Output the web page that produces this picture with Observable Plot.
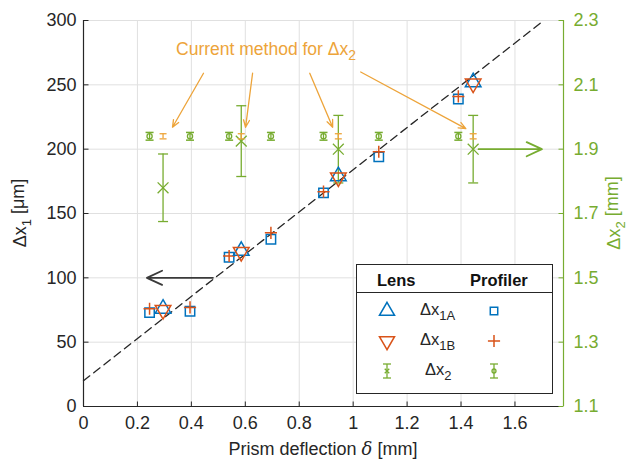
<!DOCTYPE html>
<html>
<head>
<meta charset="utf-8">
<script src="https://cdn.jsdelivr.net/npm/d3@7"></script>
<script src="https://cdn.jsdelivr.net/npm/@observablehq/plot@0.6"></script>
<style>
  html, body { margin: 0; padding: 0; background: #fff; }
  #chart { width: 632px; height: 463px; }
</style>
</head>
<body>
<div id="chart"></div>
<script>
// ---- data ----
const xTicks = [0, 0.2, 0.4, 0.6, 0.8, 1, 1.2, 1.4, 1.6];
const yTicks = [0, 50, 100, 150, 200, 250, 300];
const y2Ticks = [1.1, 1.3, 1.5, 1.7, 1.9, 2.1, 2.3];

// Lens measurements (Δx1A, Δx1B in µm; Δx2 in mm)
const lensX = [0.295, 0.585, 0.945, 1.445];
const lensA = [76, 121, 179, 252];
const lensB = [75, 120, 178, 251];
const lensDx2 = [1.78, 1.925, 1.90, 1.90];
const lensDx2Err = [0.105, 0.11, 0.105, 0.105];

// Profiler measurements
const profX = [0.245, 0.395, 0.54, 0.695, 0.89, 1.095, 1.39];
const profA = [73, 74, 116, 130, 166, 194, 239];
const profB = [76, 77, 117, 135, 167, 198, 241];
const profDx2 = [1.94, 1.94, 1.94, 1.94, 1.94, 1.94, 1.94];
const profDx2Err = [0.012, 0.012, 0.012, 0.012, 0.012, 0.012, 0.012];

// "Current method" Δx2 at lens positions
const curDx2 = [1.94, 1.94, 1.94, 1.94];
const curDx2Err = [0.008, 0.008, 0.008, 0.008];

// dashed fit line end points [δ, Δx1]
const fitLine = [[0, 20], [1.707, 300]];

// annotation arrows (δ, Δx1 units)
const orangeArrows = [
  {x1: 0.445, y1: 259, x2: 0.330, y2: 217},
  {x1: 0.627, y1: 259, x2: 0.601, y2: 217},
  {x1: 0.839, y1: 259, x2: 0.924, y2: 217},
  {x1: 1.028, y1: 260, x2: 1.418, y2: 216}
];
const blackArrow = [{x1: 0.48, y1: 100, x2: 0.235, y2: 100}];
const greenArrow = [{x1: 1.465, y2v: 1.9, x2: 1.70}];
const annotation = {x: 0.345, y: 273, text: "Current method for Δx", sub: "2"};

// ---- styling ----
const BLUE = "#0072BD", RED = "#D95319", GREEN = "#77AC30", ORANGE = "#EDA43A", INK = "#262626";
const XMAX = 1.78;
const toLeft = v => (v - 1.1) / 1.2 * 300;   // right axis (mm) -> left axis units

const hcap = {draw(ctx, size) { const r = Math.sqrt(size / Math.PI); ctx.moveTo(-r, 0); ctx.lineTo(r, 0); }};
const vtickUp = {draw(ctx, size) { const r = Math.sqrt(size / Math.PI); ctx.moveTo(0, 0); ctx.lineTo(0, -r); }};
const htickRight = {draw(ctx, size) { const r = Math.sqrt(size / Math.PI); ctx.moveTo(0, 0); ctx.lineTo(r, 0); }};
const htickLeft = {draw(ctx, size) { const r = Math.sqrt(size / Math.PI); ctx.moveTo(0, 0); ctx.lineTo(-r, 0); }};

const lensRows = lensX.map((x, i) => ({x, a: lensA[i], b: lensB[i], d2: toLeft(lensDx2[i]), lo: toLeft(lensDx2[i] - lensDx2Err[i]), hi: toLeft(lensDx2[i] + lensDx2Err[i]), c: toLeft(curDx2[i]), clo: toLeft(curDx2[i] - curDx2Err[i]), chi: toLeft(curDx2[i] + curDx2Err[i])}));
const profRows = profX.map((x, i) => ({x, a: profA[i], b: profB[i], d2: toLeft(profDx2[i]), lo: toLeft(profDx2[i] - profDx2Err[i]), hi: toLeft(profDx2[i] + profDx2Err[i])}));

const chart = Plot.plot({
  width: 632, height: 463,
  marginLeft: 83, marginRight: 69, marginTop: 20, marginBottom: 57,
  style: {fontFamily: "'Liberation Sans', Arial, Helvetica, sans-serif", fontSize: "18px", color: INK, background: "#fff", overflow: "visible"},
  x: {domain: [0, XMAX]},
  y: {domain: [0, 300]},
  marks: [
    // grid
    Plot.ruleX(xTicks, {x: d => d, stroke: "#e0e0e0", strokeWidth: 1}),
    Plot.ruleY(yTicks, {y: d => d, stroke: "#e0e0e0", strokeWidth: 1}),
    // axes lines
    Plot.ruleX([0], {stroke: INK, strokeWidth: 1.2}),
    Plot.ruleY([0], {stroke: INK, strokeWidth: 1.2}),
    Plot.ruleX([XMAX], {stroke: GREEN, strokeWidth: 1.2}),
    // inward ticks
    Plot.dot(xTicks, {x: d => d, y: 0, symbol: vtickUp, r: 5, stroke: INK, fill: "none", strokeWidth: 1}),
    Plot.dot(yTicks, {x: 0, y: d => d, symbol: htickRight, r: 5, stroke: INK, fill: "none", strokeWidth: 1}),
    Plot.dot(yTicks, {x: XMAX, y: d => d, symbol: htickLeft, r: 5, stroke: GREEN, fill: "none", strokeWidth: 1}),
    // tick labels
    Plot.axisX(xTicks, {tickSize: 0, tickPadding: 10, label: null, tickFormat: d => String(d), fill: INK}),
    Plot.axisY(yTicks, {anchor: "left", tickSize: 0, tickPadding: 7, label: null, tickFormat: d => String(d), fill: INK}),
    Plot.axisY(yTicks, {anchor: "right", tickSize: 0, tickPadding: 10, label: null, tickFormat: d => (1.1 + d / 250).toFixed(1), fill: GREEN}),
    // fit line
    Plot.line(fitLine, {x: d => d[0], y: d => d[1], stroke: INK, strokeWidth: 1.3, strokeDasharray: "8,5"}),
    // arrows
    Plot.arrow(orangeArrows, {x1: "x1", y1: "y1", x2: "x2", y2: "y2", stroke: ORANGE, strokeWidth: 1.3, headLength: 9, headAngle: 45}),
    Plot.arrow(blackArrow, {x1: "x1", y1: "y1", x2: "x2", y2: "y2", stroke: "#3a3a3a", strokeWidth: 1.8, headLength: 14, headAngle: 50}),
    Plot.arrow(greenArrow, {x1: "x1", y1: d => toLeft(d.y2v), x2: "x2", y2: d => toLeft(d.y2v), stroke: GREEN, strokeWidth: 1.8, headLength: 14, headAngle: 50}),
    // Δx2 lens error bars
    Plot.ruleX(lensRows, {x: "x", y1: "lo", y2: "hi", stroke: GREEN, strokeWidth: 1.3}),
    Plot.dot(lensRows, {x: "x", y: "lo", symbol: hcap, r: 5, stroke: GREEN, fill: "none", strokeWidth: 1.3}),
    Plot.dot(lensRows, {x: "x", y: "hi", symbol: hcap, r: 5, stroke: GREEN, fill: "none", strokeWidth: 1.3}),
    Plot.dot(lensRows, {x: "x", y: "d2", symbol: "times", r: 5, stroke: GREEN, strokeWidth: 1.3}),
    // current method (orange)
    Plot.ruleX(lensRows, {x: "x", y1: "clo", y2: "chi", stroke: ORANGE, strokeWidth: 1.3}),
    Plot.dot(lensRows, {x: "x", y: "clo", symbol: hcap, r: 3.5, stroke: ORANGE, fill: "none", strokeWidth: 1.3}),
    Plot.dot(lensRows, {x: "x", y: "chi", symbol: hcap, r: 3.5, stroke: ORANGE, fill: "none", strokeWidth: 1.3}),
    // Δx2 profiler
    Plot.ruleX(profRows, {x: "x", y1: "lo", y2: "hi", stroke: GREEN, strokeWidth: 1.3}),
    Plot.dot(profRows, {x: "x", y: "lo", symbol: hcap, r: 4, stroke: GREEN, fill: "none", strokeWidth: 1.5}),
    Plot.dot(profRows, {x: "x", y: "hi", symbol: hcap, r: 4, stroke: GREEN, fill: "none", strokeWidth: 1.5}),
    Plot.dot(profRows, {x: "x", y: "d2", symbol: "circle", r: 2.6, stroke: GREEN, fill: "none", strokeWidth: 1.3}),
    // Δx1 profiler
    Plot.dot(profRows, {x: "x", y: "a", symbol: "square", r: 5.3, stroke: BLUE, fill: "none", strokeWidth: 1.5}),
    Plot.dot(profRows, {x: "x", y: "b", symbol: "plus", r: 4, stroke: RED, fill: "none", strokeWidth: 1.5}),
    // Δx1 lens
    Plot.dot(lensRows, {x: "x", y: "a", symbol: "triangle", r: 5.8, stroke: BLUE, fill: "none", strokeWidth: 1.5}),
    Plot.dot(lensRows, {x: "x", y: "b", symbol: "triangle", rotate: 180, r: 5.8, stroke: RED, fill: "none", strokeWidth: 1.5})
  ]
});

document.getElementById("chart").appendChild(chart);

const sx = chart.scale("x"), sy = chart.scale("y");
const svg = d3.select(chart);
const FONT = "'Liberation Sans', Arial, Helvetica, sans-serif";

function subText(sel, main, sub, rest, size, subSize) {
  sel.append("tspan").text(main);
  sel.append("tspan").attr("dy", "0.38em").attr("font-size", subSize).text(sub);
  if (rest) sel.append("tspan").attr("dy", "-0.38em").attr("font-size", size).text(rest);
}

// annotation text
{
  const t = svg.append("text").attr("x", sx.apply(annotation.x)).attr("y", sy.apply(annotation.y))
    .attr("text-anchor", "start").attr("fill", ORANGE).attr("font-family", FONT).attr("font-size", 17.5);
  subText(t, annotation.text, annotation.sub, null, 17.5, 14);
}

// axis labels
{
  const t = svg.append("text").attr("transform", "translate(26,213) rotate(-90)").attr("text-anchor", "middle")
    .attr("fill", INK).attr("font-family", FONT).attr("font-size", 18);
  subText(t, "Δx", "1", " [μm]", 18, 13);
  const t2 = svg.append("text").attr("transform", "translate(620,213) rotate(-90)").attr("text-anchor", "middle")
    .attr("fill", GREEN).attr("font-family", FONT).attr("font-size", 18);
  subText(t2, "Δx", "2", " [mm]", 18, 13);
  const t3 = svg.append("text").attr("x", 323).attr("y", 455).attr("text-anchor", "middle")
    .attr("fill", INK).attr("font-family", FONT).attr("font-size", 18);
  t3.append("tspan").text("Prism deflection ");
  t3.append("tspan").attr("font-style", "italic").attr("font-family", "'DejaVu Serif', serif").text("δ");
  t3.append("tspan").text(" [mm]");
}

// legend
{
  const g = svg.append("g").attr("font-family", FONT).attr("text-anchor", "start");
  g.append("rect").attr("x", 356.5).attr("y", 264.5).attr("width", 196).attr("height", 129)
    .attr("fill", "#fff").attr("stroke", INK).attr("stroke-width", 1);
  g.append("line").attr("x1", 356.5).attr("x2", 552.5).attr("y1", 292.5).attr("y2", 292.5).attr("stroke", INK);
  g.append("text").attr("x", 377).attr("y", 286).attr("font-weight", "bold").attr("font-size", 16.5).attr("fill", "#111").text("Lens");
  g.append("text").attr("x", 470).attr("y", 286).attr("font-weight", "bold").attr("font-size", 16.5).attr("fill", "#111").text("Profiler");
  const sym = (type, r) => d3.symbol(type, Math.PI * r * r)();
  const lx = 387, px = 494, rows = [311, 341, 371];
  g.append("path").attr("d", sym(d3.symbolTriangle, 5.6)).attr("transform", `translate(${lx},${rows[0]})`).attr("fill", "none").attr("stroke", BLUE).attr("stroke-width", 1.5);
  g.append("path").attr("d", sym(d3.symbolSquare, 4.2)).attr("transform", `translate(${px},${rows[0]})`).attr("fill", "none").attr("stroke", BLUE).attr("stroke-width", 1.5);
  g.append("path").attr("d", sym(d3.symbolTriangle, 5.6)).attr("transform", `translate(${lx},${rows[1]}) rotate(180)`).attr("fill", "none").attr("stroke", RED).attr("stroke-width", 1.5);
  g.append("path").attr("d", sym(d3.symbolPlus, 4)).attr("transform", `translate(${px},${rows[1]})`).attr("fill", "none").attr("stroke", RED).attr("stroke-width", 1.5);
  // error bar glyphs
  const eb = (x, y, withX) => {
    const e = g.append("g").attr("stroke", GREEN).attr("stroke-width", 1.3).attr("fill", "none");
    e.append("line").attr("x1", x).attr("x2", x).attr("y1", y - 7).attr("y2", y + 7);
    e.append("line").attr("x1", x - 4).attr("x2", x + 4).attr("y1", y - 7).attr("y2", y - 7);
    e.append("line").attr("x1", x - 4).attr("x2", x + 4).attr("y1", y + 7).attr("y2", y + 7);
    if (withX) e.append("path").attr("d", sym(d3.symbolTimes, 2.2)).attr("transform", `translate(${x},${y})`);
    else e.append("circle").attr("cx", x).attr("cy", y).attr("r", 2);
  };
  eb(lx, rows[2], true);
  eb(px, rows[2], false);
  const lab = (x, y, sub) => {
    const t = g.append("text").attr("x", x).attr("y", y).attr("font-size", 16.5).attr("fill", INK);
    subText(t, "Δx", sub, null, 16.5, 13);
  };
  lab(420, 315, "1A");
  lab(420, 345, "1B");
  lab(425, 375, "2");
}
</script>
</body>
</html>
